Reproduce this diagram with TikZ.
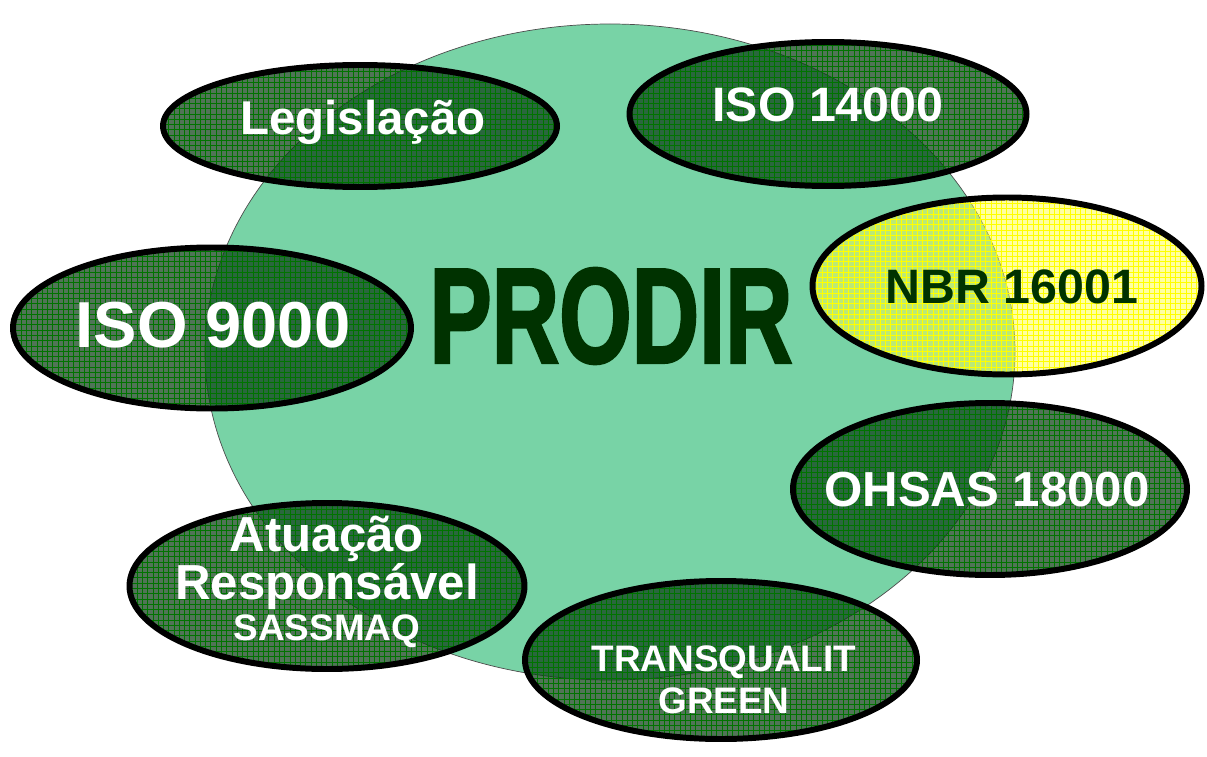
\documentclass[tikz,border=0pt]{standalone}
\usepackage{fontspec}
\setmainfont{Liberation Sans}
\newfontfamily\heavyfont{Liberation Sans}[FakeBold=2.2]
\usetikzlibrary{shapes,patterns}
\definecolor{circ}{RGB}{120,211,166}
\definecolor{dkgreen}{RGB}{12,62,22}
\definecolor{prodir}{RGB}{0,50,0}
\definecolor{amarelo}{RGB}{255,255,70}
\tikzstyle{base}	=[ellipse, draw=black!70, thin, fill=circ, inner sep=0pt]
\tikzstyle{norma}	=[ellipse, fill=dkgreen, fill opacity=0.72, text opacity=1, text=white, inner sep=0pt, align=center, postaction={pattern=grid, pattern color=green!45!black}, postaction={draw=black, line width=3.4pt}]
\tikzstyle{normaY}	=[ellipse, fill=amarelo, fill opacity=0.5, text opacity=1, text=prodir, inner sep=0pt, align=center, postaction={pattern=grid, pattern color=yellow}, postaction={draw=black, line width=3.4pt}]
\tikzstyle{lbl}		=[inner sep=0pt, text=white, align=center]
\newcommand{\fs}[1]{\fontsize{#1}{#1}\selectfont\bfseries}
\begin{document}
\begin{tikzpicture}[x=0.02cm, y=-0.02cm]
	\useasboundingbox (0,0) rectangle (1207,757);
	
	%%%%% PRODIR
	\node[base, minimum width=810*0.02cm, minimum height=656*0.02cm] (prodir) at (610,352) {};
	\node[inner sep=0pt, text=prodir, xscale=0.69] (titulo) at (611,316) {\heavyfont\fs{77}PRODIR};
	
	%%%%% Normas  (sentido horario)
	\node[norma, minimum width=394*0.02cm, minimum height=122*0.02cm] (leg) at (360,126) {};
	\node[norma, minimum width=397*0.02cm, minimum height=144*0.02cm] (iso14) at (828,114) {};
	\node[normaY, minimum width=389*0.02cm, minimum height=177*0.02cm] (nbr) at (1007,286) {};
	\node[norma, minimum width=394*0.02cm, minimum height=172*0.02cm] (ohsas) at (990,489) {};
	\node[norma, minimum width=392*0.02cm, minimum height=158*0.02cm] (transq) at (721,660) {};
	\node[norma, minimum width=395*0.02cm, minimum height=166*0.02cm] (atua) at (327,586) {};
	\node[norma, minimum width=398*0.02cm, minimum height=161*0.02cm] (iso9) at (212,328) {};
	
	%%%% textos
	\node[lbl] (tleg) at (363,122) {\fs{27}Legislação};
	\node[lbl] (tiso14) at (828,105) {\fs{27.5}ISO 14000};
	\node[lbl, text=prodir] (tnbr) at (1012,287) {\fs{27.5}NBR 16001};
	\node[lbl] (tohsas) at (987,490) {\fs{28}OHSAS 18000};
	\node[lbl] (ttransq) at (724,680) {\fs{21}TRANSQUALIT\\[4pt]\fs{21}GREEN};
	\node[lbl] (tatua) at (327,582) {\fs{28}Atuação\\\fs{28}Responsável\\[2pt]\fs{21}SASSMAQ};
	\node[lbl] (tiso9) at (213,325) {\fs{37}ISO 9000};
\end{tikzpicture}
\end{document}
